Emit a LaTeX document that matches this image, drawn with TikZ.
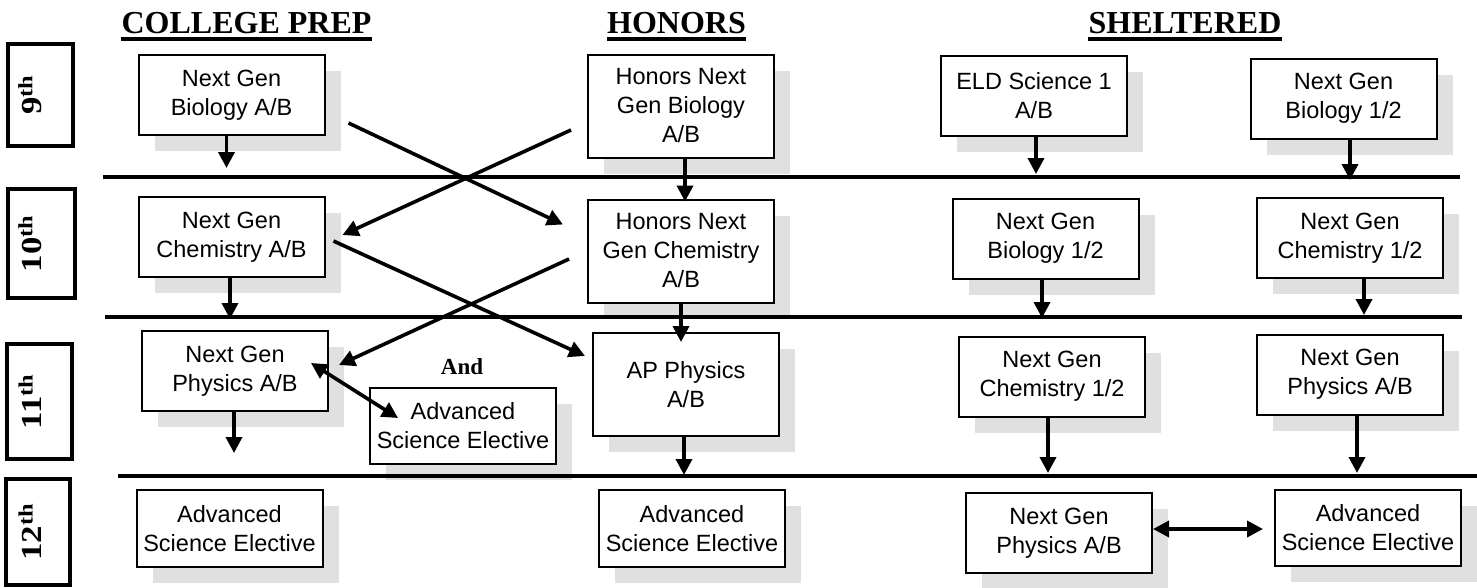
\documentclass[tikz,border=0pt]{standalone}
\usepackage{fontspec}
\usepackage{graphicx}
\setmainfont{Liberation Serif}
\newfontfamily\boxfont{Liberation Sans}
\usetikzlibrary{arrows.meta, positioning, calc, shadows}
\definecolor{shadowFill}{HTML}{e0e0e0}
\definecolor{ink}{HTML}{000000}
\def\boxW{186}
\def\boxH{80}
\def\tallH{103}
\def\shadowOff{16pt}

\begin{document}
\begin{tikzpicture}[x=1pt, y=-1pt,
    course/.style={draw=ink, line width=2pt, fill=white,
                   minimum width=\boxW, minimum height=\boxH,
                   inner sep=2pt, align=center,
                   font=\boxfont\fontsize{23.5}{29}\selectfont,
                   drop shadow={shadow xshift=\shadowOff,
                                shadow yshift=-\shadowOff,
                                fill=shadowFill, opacity=1}},
    gradebox/.style={draw=ink, line width=4.5pt},
    gradetext/.style={rotate=90, inner sep=0pt,
                      font=\fontsize{29}{29}\selectfont\bfseries},
    header/.style={inner sep=0pt, anchor=base,
                   font=\fontsize{32}{32}\selectfont\bfseries},
    rule/.style={draw=ink, line width=4pt},
    flow/.style={draw=ink, line width=3.6pt,
                 -{Triangle[length=16pt, width=16pt]}},
    twoway/.style={draw=ink, line width=3.6pt,
                   {Triangle[length=16pt, width=16pt]}-{Triangle[length=16pt, width=16pt]}}]

    \path[use as bounding box, fill=white] (0,0) rectangle (1477,587);

    % ==========================================================
    % 1. TRACK HEADERS
    % ==========================================================
    \node[header] (hdPrep)  at (246.5,33) {COLLEGE PREP};
    \node[header] (hdHon)   at (676.5,33) {HONORS};
    \node[header] (hdShelt) at (1185,33)  {SHELTERED};
    \foreach \h in {hdPrep, hdHon, hdShelt}
        \draw[ink, line width=3.5pt]
            ([yshift=-6pt]\h.base west) -- ([yshift=-6pt]\h.base east);

    % ==========================================================
    % 2. GRADE TABS (left column)
    % ==========================================================
    \node[gradebox, minimum width=65, minimum height=102] (g9)  at (40.5,95)   {};
    \node[gradebox, minimum width=67, minimum height=109] (g10) at (41.5,243.5) {};
    \node[gradebox, minimum width=65, minimum height=115] (g11) at (39.5,401.5) {};
    \node[gradebox, minimum width=64, minimum height=106] (g12) at (38,532)    {};

    \node[gradetext] (g9txt)  at (30,95)    {\scalebox{1.2}[1]{9\textsuperscript{th}}};
    \node[gradetext] (g10txt) at (30,243.5) {\scalebox{1.2}[1]{10\textsuperscript{th}}};
    \node[gradetext] (g11txt) at (30,401.5) {\scalebox{1.2}[1]{11\textsuperscript{th}}};
    \node[gradetext] (g12txt) at (30,532)   {\scalebox{1.2}[1]{12\textsuperscript{th}}};

    % ==========================================================
    % 3. COURSE BOXES
    % ==========================================================
    % College prep
    \node[course] (cp9)  at (231.5,95)  {Next Gen\\Biology A/B};
    \node[course] (cp10) at (231.5,237) {Next Gen\\Chemistry A/B};
    \node[course] (cp11) at (235,371)   {Next Gen\\Physics A/B};
    \node[course, minimum height=77] (cp12) at (229.5,528.5) {Advanced\\Science Elective};
    \node[course, minimum height=76] (ase11) at (463,426) {Advanced\\Science Elective};
    \node[font=\fontsize{23}{23}\selectfont\bfseries, anchor=base, inner sep=0pt]
        (andLbl) at (462,374) {And};

    % Honors
    \node[course, minimum height=\tallH] (h9)   at (681,106)   {Honors Next\\Gen Biology\\A/B};
    \node[course, minimum height=\tallH] (h10)  at (681,251)   {Honors Next\\Gen Chemistry\\A/B};
    \node[course, minimum height=\tallH] (ap11) at (686,384.5) {AP Physics\\A/B};
    \node[course, minimum height=77]     (h12)  at (692,528.5) {Advanced\\Science Elective};

    % Sheltered
    \node[course] (s9a)  at (1034,96)     {ELD Science 1\\A/B};
    \node[course] (s9b)  at (1343.5,98.5) {Next Gen\\Biology 1/2};
    \node[course] (s10a) at (1045.5,238.5) {Next Gen\\Biology 1/2};
    \node[course] (s10b) at (1350,238)    {Next Gen\\Chemistry 1/2};
    \node[course] (s11a) at (1052,376.5)  {Next Gen\\Chemistry 1/2};
    \node[course] (s11b) at (1350,374.5)  {Next Gen\\Physics A/B};
    \node[course] (s12a) at (1059,533)    {Next Gen\\Physics A/B};
    \node[course, minimum height=76] (s12b) at (1368,528) {Advanced\\Science Elective};

    % ==========================================================
    % 4. GRADE DIVIDER RULES
    % ==========================================================
    \coordinate (ruleAL) at (103,177);
    \coordinate (ruleAR) at (1460,177);
    \coordinate (ruleBL) at (105,317);
    \coordinate (ruleBR) at (1462,317);
    \coordinate (ruleCL) at (118,476);
    \coordinate (ruleCR) at (1477,476);
    \draw[rule] (ruleAL) -- (ruleAR);
    \draw[rule] (ruleBL) -- (ruleBR);
    \draw[rule] (ruleCL) -- (ruleCR);

    % ==========================================================
    % 5. VERTICAL PROGRESSION ARROWS
    % ==========================================================
    \draw[flow, shorten >=9pt]  ([xshift=-5pt]cp9.south)  -- ([xshift=-5pt]cp9.south |- ruleAL);
    \draw[flow, shorten >=-2pt] ([xshift=-1.5pt]cp10.south) -- ([xshift=-1.5pt]cp10.south |- ruleBL);
    \draw[flow, shorten >=23pt] ([xshift=-1pt]cp11.south) -- ([xshift=-1pt]cp11.south |- ruleCL);

    \draw[flow, shorten >=-3pt]  ([xshift=4pt]h9.south) -- ([xshift=4pt]h10.north);
    \draw[flow, shorten >=-10pt] (h10.south) -- (h10.south |- ap11.north);
    \draw[flow, shorten >=1pt]   ([xshift=-2pt]ap11.south) -- ([xshift=-2pt]ap11.south |- ruleCL);

    \draw[flow, shorten >=3pt]  ([xshift=2pt]s9a.south)    -- ([xshift=2pt]s9a.south |- ruleAL);
    \draw[flow, shorten >=-3pt] ([xshift=6.5pt]s9b.south)  -- ([xshift=6.5pt]s9b.south |- ruleAL);
    \draw[flow, shorten >=-1pt] ([xshift=-3.5pt]s10a.south) -- ([xshift=-3.5pt]s10a.south |- ruleBL);
    \draw[flow, shorten >=2pt]  ([xshift=14pt]s10b.south)  -- ([xshift=14pt]s10b.south |- ruleBL);
    \draw[flow, shorten >=3pt]  ([xshift=-4pt]s11a.south)  -- ([xshift=-4pt]s11a.south |- ruleCL);
    \draw[flow, shorten >=3pt]  ([xshift=7pt]s11b.south)   -- ([xshift=7pt]s11b.south |- ruleCL);

    % ==========================================================
    % 6. CROSS-TRACK ARROWS
    % ==========================================================
    \draw[flow] ([shift={(23,-13)}]cp9.south east) -- ([shift={(-24,26)}]h10.north west);
    \draw[flow] ([shift={(-16,24)}]h9.west)        -- ([shift={(17,-2)}]cp10.east);
    \draw[flow] ([shift={(8,4)}]cp10.east)         -- ([shift={(-7,24)}]ap11.north west);
    \draw[flow] ([shift={(-18,8)}]h10.west)        -- ([shift={(10,-6)}]cp11.east);
    \draw[twoway] ([shift={(-18,-8)}]cp11.east)    -- ([shift={(29,-8)}]ase11.west);

    \draw[twoway, shorten >=11pt] ([yshift=4pt]s12a.east) -- ([yshift=4pt]s12a.east -| s12b.west);

\end{tikzpicture}
\end{document}
